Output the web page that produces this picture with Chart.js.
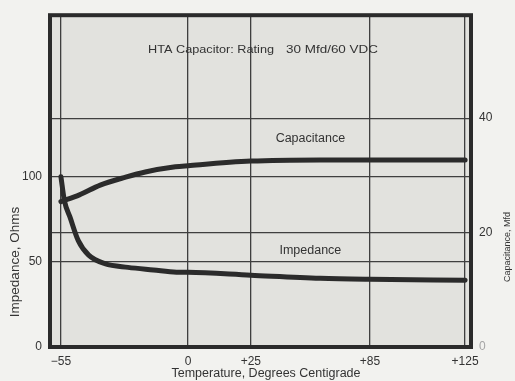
<!DOCTYPE html>
<html>
<head>
<meta charset="utf-8">
<script src="https://cdn.jsdelivr.net/npm/chart.js@4"></script>
<style>
  html, body { margin: 0; background: #f2f2ef; }
  #wrap { width: 515px; height: 381px; }
</style>
</head>
<body>
<div id="wrap"><canvas id="chart"></canvas></div>
<script>
// tick labels
const tempTicks = [-55, 0, 25, 85, 125];
const impTicks = [0, 50, 100];
const capTicks = [0, 20, 40];

// impedance (ohms) against temperature (deg C)
const impTemps = [-55, -53.5, -51, -47.5, -43, -36, -26, -15, -5, 0, 25, 60, 85, 125];
const impOhms  = [100, 86, 76, 62.5, 54, 49, 46.8, 45.3, 44, 43.9, 42.2, 40.4, 39.8, 39.2];

// capacitance (mfd) against temperature (deg C)
const capTemps = [-55, -47, -38, -27, -18.5, -5.5, 0, 25, 60, 85, 125];
const capMfd   = [25.4, 26.6, 28.3, 29.7, 30.6, 31.5, 31.7, 32.5, 32.7, 32.7, 32.7];

const INK = '#2b2b2b';
const GRID = '#3f3f3f';
const FONT = '"Liberation Sans", Arial, sans-serif';

// the temperature axis is not evenly spaced: each tick has its own share of the width
const axisTemps = [-59.5, -55, 0, 25, 85, 125, 127.5];
const axisStops = [0, 0.026, 0.328, 0.477, 0.760, 0.986, 1];

function interp(v, from, to) {
  if (v <= from[0]) return to[0];
  for (let i = 1; i < from.length; i++) {
    if (v <= from[i]) {
      const t = (v - from[i - 1]) / (from[i] - from[i - 1]);
      return to[i - 1] + t * (to[i] - to[i - 1]);
    }
  }
  return to[to.length - 1];
}

class StretchScale extends Chart.LinearScale {
  getPixelForValue(value) {
    return this.getPixelForDecimal(interp(value, axisTemps, axisStops));
  }
  getValueForPixel(pixel) {
    return interp(this.getDecimalForPixel(pixel), axisStops, axisTemps);
  }
}
StretchScale.id = 'stretch';
Chart.register(StretchScale);

const pairs = (xs, ys) => xs.map((x, i) => ({ x, y: ys[i] }));
const fixTicks = list => scale => { scale.ticks = list.map(value => ({ value })); };

// draw text squeezed or stretched to a given width, starting at x
function spanText(ctx, text, x, y, width) {
  const w = ctx.measureText(text).width;
  ctx.save();
  ctx.translate(x, y);
  ctx.scale(width / w, 1);
  ctx.textAlign = 'left';
  ctx.fillText(text, 0, 0);
  ctx.restore();
}

const paper = {
  id: 'paper',
  beforeDraw(chart) {
    const { ctx, chartArea: a } = chart;
    ctx.save();
    ctx.fillStyle = '#f2f2ef';
    ctx.fillRect(0, 0, chart.width, chart.height);
    ctx.fillStyle = '#e2e2de';
    ctx.fillRect(a.left, a.top, a.right - a.left, a.bottom - a.top);
    ctx.restore();
  },
  afterDraw(chart) {
    const { ctx, chartArea: a, scales } = chart;
    ctx.save();
    // heavy frame
    ctx.strokeStyle = INK;
    ctx.lineWidth = 4;
    ctx.strokeRect(a.left, a.top, a.right - a.left, a.bottom - a.top);

    ctx.fillStyle = '#333';
    ctx.textBaseline = 'middle';

    // heading inside the plot
    ctx.font = '11.5px ' + FONT;
    spanText(ctx, 'HTA Capacitor: Rating', 148, 50, 126);
    spanText(ctx, '30 Mfd/60 VDC', 286, 50, 92);

    // curve names
    ctx.font = '12.5px ' + FONT;
    ctx.textAlign = 'center';
    ctx.fillText('Capacitance', scales.x.getPixelForValue(55), scales.yCap.getPixelForValue(36.4));
    ctx.fillText('Impedance', scales.x.getPixelForValue(55), scales.yImp.getPixelForValue(56.5));

    // axis titles
    ctx.fillText('Temperature, Degrees Centigrade', 266, 374);

    ctx.save();
    ctx.translate(15, 262);
    ctx.rotate(-Math.PI / 2);
    ctx.font = '13.5px ' + FONT;
    ctx.fillText('Impedance, Ohms', 0, 0);
    ctx.restore();

    ctx.save();
    ctx.translate(508, 247);
    ctx.rotate(-Math.PI / 2);
    ctx.font = '9px ' + FONT;
    ctx.fillText('Capacitance, Mfd', 0, 0);
    ctx.restore();

    ctx.restore();
  }
};

const gridStyle = { color: GRID, lineWidth: 1.3, drawTicks: false };
const tickFont = { family: FONT, size: 12 };

new Chart(document.getElementById('chart'), {
  type: 'line',
  data: {
    datasets: [
      {
        label: 'Impedance',
        data: pairs(impTemps, impOhms),
        yAxisID: 'yImp',
        borderColor: INK,
        borderWidth: 5,
        pointRadius: 0,
        cubicInterpolationMode: 'monotone',
        borderCapStyle: 'round'
      },
      {
        label: 'Capacitance',
        data: pairs(capTemps, capMfd),
        yAxisID: 'yCap',
        borderColor: INK,
        borderWidth: 5,
        pointRadius: 0,
        cubicInterpolationMode: 'monotone',
        borderCapStyle: 'round'
      }
    ]
  },
  options: {
    responsive: true,
    maintainAspectRatio: false,
    animation: false,
    layout: { padding: { top: 12, left: 0, right: 0, bottom: 0 } },
    plugins: { legend: { display: false }, tooltip: { enabled: false } },
    scales: {
      x: {
        type: 'stretch',
        min: -59.5,
        max: 127.5,
        afterBuildTicks: fixTicks(tempTicks),
        afterFit: s => { s.height = 34; },
        grid: gridStyle,
        border: { display: false },
        ticks: {
          autoSkip: false,
          maxRotation: 0,
          padding: 7,
          color: '#333',
          font: tickFont,
          callback: v => v < 0 ? '\u2212' + Math.abs(v) : v > 0 ? '+' + v : '0'
        }
      },
      yImp: {
        type: 'linear',
        position: 'left',
        min: 0,
        max: 195,
        afterBuildTicks: fixTicks(impTicks),
        afterFit: s => { s.width = 50; },
        grid: gridStyle,
        border: { display: false },
        ticks: { padding: 8, color: '#333', font: tickFont }
      },
      yCap: {
        type: 'linear',
        position: 'right',
        min: 0,
        max: 58,
        afterBuildTicks: fixTicks(capTicks),
        afterFit: s => { s.width = 44; },
        grid: gridStyle,
        border: { display: false },
        ticks: {
          padding: 8,
          font: tickFont,
          color: c => c.tick && c.tick.value === 0 ? '#a5a5a5' : '#333'
        }
      }
    }
  },
  plugins: [paper]
});
</script>
</body>
</html>
